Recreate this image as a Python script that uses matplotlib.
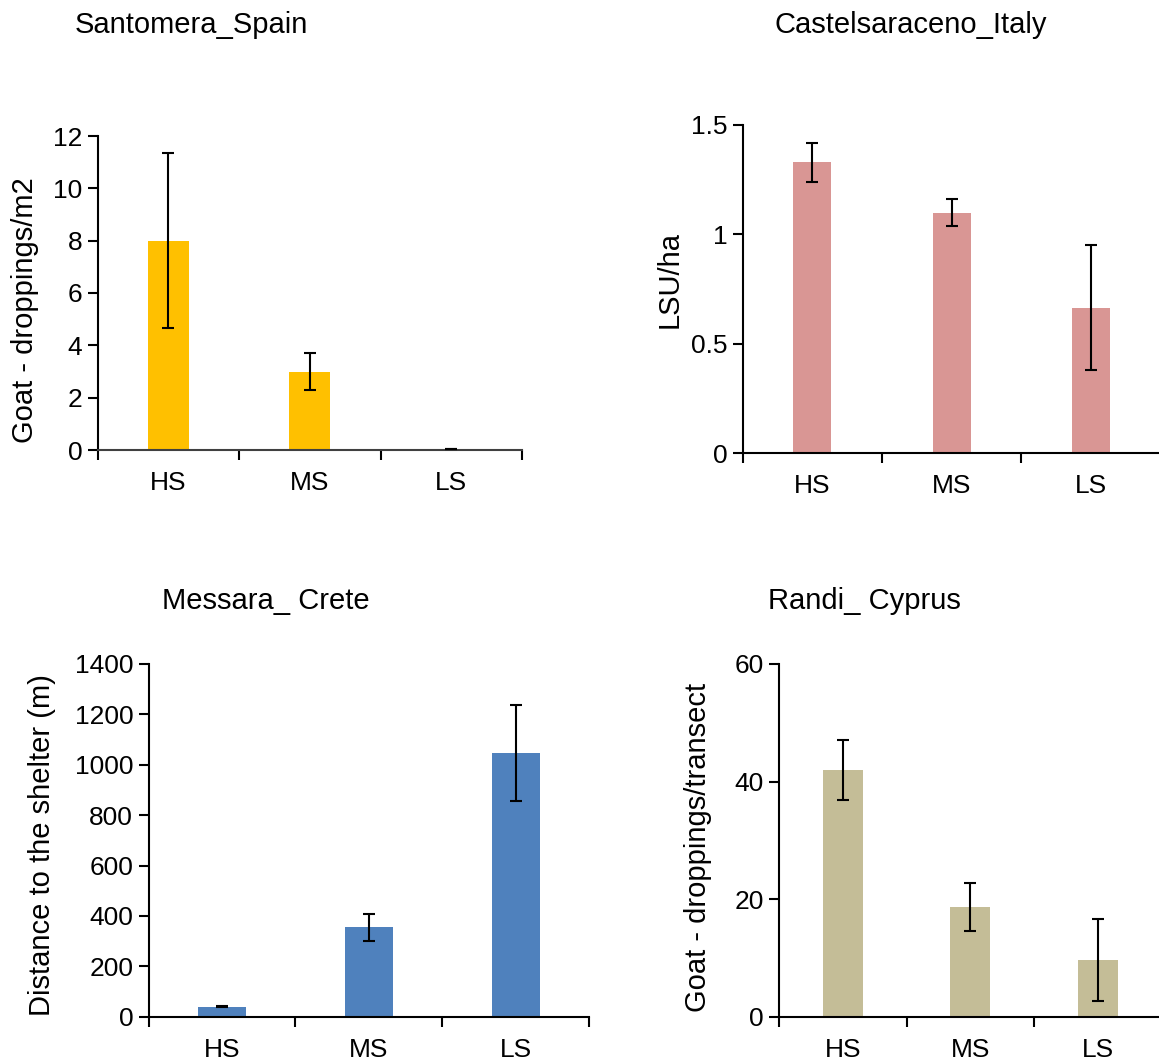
import matplotlib.pyplot as plt

plt.rcParams['font.family'] = ['Liberation Sans', 'DejaVu Sans']
plt.rcParams['font.size'] = 19

W, H = 1159, 1062
sites = ['HS', 'MS', 'LS']

# Santomera_Spain
spain_vals = [8.0, 3.0, 0.02]
spain_err = [3.35, 0.7, 0.0]
# Castelsaraceno_Italy
italy_vals = [1.33, 1.10, 0.665]
italy_err = [0.09, 0.06, 0.285]
# Messara_ Crete
crete_vals = [40, 355, 1048]
crete_err = [2, 54, 190]
# Randi_ Cyprus
cyprus_vals = [42.0, 18.6, 9.65]
cyprus_err = [5.1, 4.1, 6.9]


def px_rect(left, right, bottom, top):
    return [left / W, 1 - bottom / H, (right - left) / W, (bottom - top) / H]


panels = [
    dict(title='Santomera_Spain', vals=spain_vals, err=spain_err,
         color='#FFC000', ylabel='Goat - droppings/m2',
         ylim=(0, 12), ticks=[0, 2, 4, 6, 8, 10, 12], ticklabels=None,
         rect=px_rect(97.7, 522, 450, 136), width=0.29,
         title_xy=(191, 25), label_xy=(25, 310), spine='#404040'),
    dict(title='Castelsaraceno_Italy', vals=italy_vals, err=italy_err,
         color='#D99694', ylabel='LSU/ha',
         ylim=(0, 1.5), ticks=[0, 0.5, 1, 1.5],
         ticklabels=['0', '0.5', '1', '1.5'],
         rect=px_rect(742.7, 1160.6, 453.3, 125), width=0.273,
         title_xy=(911, 25), label_xy=(670, 280), spine='black'),
    dict(title='Messara_ Crete', vals=crete_vals, err=crete_err,
         color='#4F81BD', ylabel='Distance to the shelter (m)',
         ylim=(0, 1400), ticks=list(range(0, 1401, 200)), ticklabels=None,
         rect=px_rect(148.5, 589.5, 1016.7, 664), width=0.32,
         title_xy=(266, 601), label_xy=(42, 845), spine='black'),
    dict(title='Randi_ Cyprus', vals=cyprus_vals, err=cyprus_err,
         color='#C4BD97', ylabel='Goat - droppings/transect',
         ylim=(0, 60), ticks=[0, 20, 40, 60], ticklabels=None,
         rect=px_rect(779, 1161.5, 1016.7, 664), width=0.314,
         title_xy=(864, 601), label_xy=(698, 847), spine='black'),
]

fig = plt.figure(figsize=(W / 100, H / 100), dpi=100)

for p in panels:
    ax = fig.add_axes(p['rect'])
    x = range(len(sites))
    ax.bar(x, p['vals'], width=p['width'], color=p['color'], zorder=2)
    ax.errorbar(x, p['vals'], yerr=p['err'], fmt='none', ecolor='black',
                elinewidth=1.5, capsize=4.5, capthick=1.5, zorder=3)
    ax.set_xlim(-0.5, 2.5)
    ax.set_ylim(*p['ylim'])
    ax.set_yticks(p['ticks'])
    if p['ticklabels']:
        ax.set_yticklabels(p['ticklabels'])
    ax.set_xticks(list(x))
    ax.set_xticklabels(sites)
    # category boundaries as outward ticks
    ax.set_xticks([-0.5, 0.5, 1.5, 2.5], minor=True)
    ax.tick_params(axis='x', which='major', length=0, pad=15)
    ax.tick_params(axis='x', which='minor', length=7, width=1.5)
    ax.tick_params(axis='y', length=7, width=1.5, pad=4)
    for side in ['top', 'right']:
        ax.spines[side].set_visible(False)
    ax.spines['left'].set_linewidth(1.5)
    ax.spines['bottom'].set_linewidth(1.5)
    ax.spines['bottom'].set_color(p['spine'])
    ax.spines['bottom'].set_clip_on(False)

    lx, ly = p['label_xy']
    fig.text(lx / W, 1 - ly / H, p['ylabel'], rotation=90,
             ha='center', va='center', fontsize=21)
    tx, ty = p['title_xy']
    fig.text(tx / W, 1 - ty / H, p['title'], ha='center', va='center',
             fontsize=21)

fig.savefig('out.png', dpi=100)
